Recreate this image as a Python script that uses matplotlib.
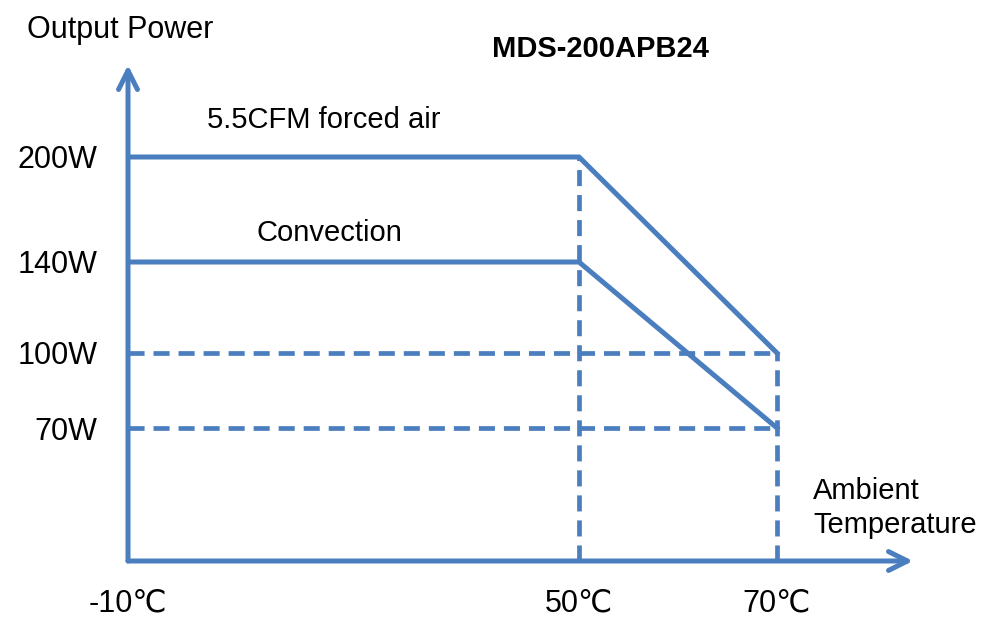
import numpy as np
import matplotlib
matplotlib.use('Agg')
import matplotlib.pyplot as plt

plt.rcParams['font.family'] = ['Liberation Sans', 'DejaVu Sans']

# data
temps = [-10, 50, 70]
forced_air = [200, 200, 100]
convection = [140, 140, 70]
power_ticks = [70, 100, 140, 200]
power_labels = ['70W', '100W', '140W', '200W']
temp_ticks = [-10, 50, 70]
temp_labels = ['-10℃', '50℃', '70℃']

blue = '#4A7EBF'

# the drawing is schematic: axes are not linear, so use piecewise scales
def piecewise(kd, kp):
    kd = np.asarray(kd, float)
    kp = np.asarray(kp, float)
    fwd = lambda v: np.interp(v, kd, kp)
    inv = lambda p: np.interp(p, kp, kd)
    return fwd, inv

xf, xi = piecewise([-110, -10, 50, 70, 170], [-752, 0, 451, 649, 1639])
yf, yi = piecewise([-100, 0, 70, 100, 140, 200, 400], [-190, 0, 133, 208, 299, 404, 754])

W, H = 989, 620
fig = plt.figure(figsize=(W / 100, H / 100), dpi=100)
x0, y0 = 128, 561       # axis origin in pixels
x_end, y_end = 913, 65  # arrow tips
ax = fig.add_axes([x0 / W, (H - y0) / H, (x_end - x0) / W, (y0 - y_end) / H])
ax.set_xscale('function', functions=(xf, xi))
ax.set_yscale('function', functions=(yf, yi))
ax.set_xlim(-10, xi(x_end - x0))
ax.set_ylim(0, yi(y0 - y_end))
ax.patch.set_alpha(0)
for s in ax.spines.values():
    s.set_visible(False)

# axis arrows
arrow = dict(arrowstyle='->', lw=3.6, color=blue, mutation_scale=34,
             shrinkA=0, shrinkB=0, capstyle='round', joinstyle='round')
ax.annotate('', xy=(1, 0), xytext=(0, 0), xycoords='axes fraction', arrowprops=arrow)
ax.annotate('', xy=(0, 1), xytext=(0, 0), xycoords='axes fraction', arrowprops=arrow)

# dashed guides
dash = dict(color=blue, lw=3.4, ls=(0, (3.4, 1.9)))
ax.plot([temps[0], temps[2]], [forced_air[2], forced_air[2]], **dash)
ax.plot([temps[0], temps[2]], [convection[2], convection[2]], **dash)
ax.plot([temps[1], temps[1]], [0, forced_air[1]], **dash)
ax.plot([temps[2], temps[2]], [0, forced_air[2]], **dash)

# derating curves
ax.plot(temps, forced_air, color=blue, lw=3.6, solid_joinstyle='miter')
ax.plot(temps, convection, color=blue, lw=3.6, solid_joinstyle='miter')

ax.set_yticks(power_ticks)
ax.set_yticklabels(power_labels)
ax.set_xticks(temp_ticks)
ax.set_xticklabels(temp_labels)
ax.tick_params(axis='y', length=0, pad=22, labelsize=22)
ax.tick_params(axis='x', length=0, pad=20, labelsize=22)
ax.minorticks_off()

fig.text(27 / W, 1 - 30 / H, 'Output Power', fontsize=22, va='center', ha='left')
fig.text(600 / W, 1 - 49 / H, 'MDS-200APB24', fontsize=21, fontweight='bold',
         va='center', ha='center')
fig.text(207 / W, 1 - 120 / H, '5.5CFM forced air', fontsize=21, va='center', ha='left')
fig.text(257 / W, 1 - 233 / H, 'Convection', fontsize=21, va='center', ha='left')
fig.text(813 / W, 1 - 508 / H, 'Ambient\nTemperature', fontsize=21, va='center',
         ha='left', linespacing=1.3)

fig.savefig('out.png', dpi=100)
